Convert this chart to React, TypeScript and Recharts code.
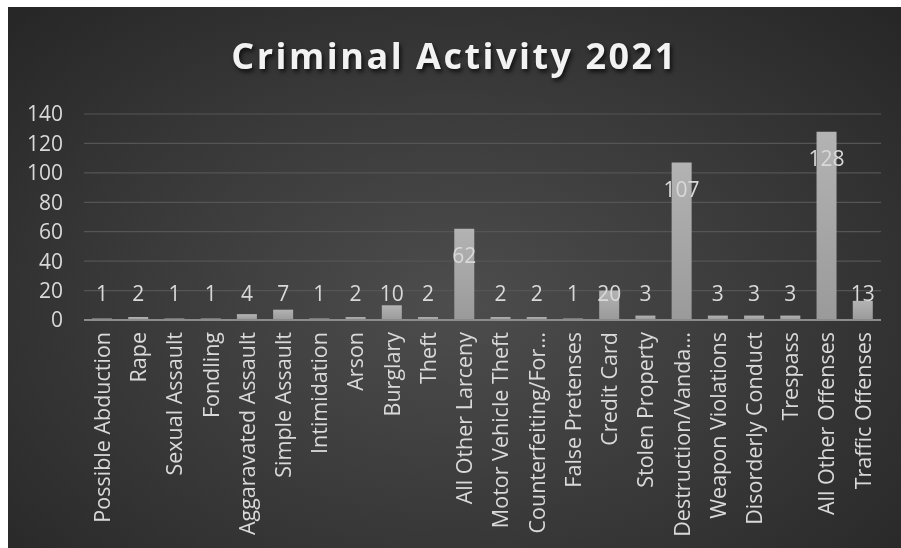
import React from 'react';
import { BarChart, Bar, XAxis, YAxis, CartesianGrid, LabelList } from 'recharts';

const categories = [
  'Possible Abduction',
  'Rape',
  'Sexual Assault',
  'Fondling',
  'Aggaravated Assault',
  'Simple Assault',
  'Intimidation',
  'Arson',
  'Burglary',
  'Theft',
  'All Other Larceny',
  'Motor Vehicle Theft',
  'Counterfeiting/For…',
  'False Pretenses',
  'Credit Card',
  'Stolen Property',
  'Destruction/Vanda…',
  'Weapon Violations',
  'Disorderly Conduct',
  'Trespass',
  'All Other Offenses',
  'Traffic Offenses',
];

const counts = [1, 2, 1, 1, 4, 7, 1, 2, 10, 2, 62, 2, 2, 1, 20, 3, 107, 3, 3, 3, 128, 13];

const yTicks = [0, 20, 40, 60, 80, 100, 120, 140];

const data = categories.map((name, i) => ({ name, value: counts[i] }));

const FONT = '"Open Sans", sans-serif';
const TEXT = '#d9d9d9';

function CategoryTick(props: any) {
  const { x, y, payload } = props;
  return (
    <text
      transform={`translate(${x}, ${y + 4}) rotate(-90)`}
      textAnchor="end"
      dy="0.36em"
      fill={TEXT}
      fontSize={21.5}
      fontFamily={FONT}
    >
      {payload.value}
    </text>
  );
}

function ValueLabel(props: any) {
  const { x, y, width, height, value } = props;
  const cy = Math.min(y + 27, y + height - 27);
  return (
    <text
      x={x + width / 2}
      y={cy}
      dy="0.36em"
      textAnchor="middle"
      fill={TEXT}
      fontSize={21}
      fontFamily={FONT}
    >
      {value}
    </text>
  );
}

export default function App() {
  return (
    <div
      style={{
        width: 893,
        height: 541,
        position: 'fixed',
        left: 8,
        top: 7,
        background: 'radial-gradient(ellipse at 50% 55%, #4d4d4d 0%, #3a3a3a 50%, #262626 100%)',
      }}
    >
      <div
        style={{
          position: 'absolute',
          top: 24,
          left: 0,
          width: 893,
          textAlign: 'center',
          fontFamily: FONT,
          fontWeight: 700,
          fontSize: 36,
          letterSpacing: 2.5,
          color: '#f2f2f2',
          textShadow: '2px 3px 4px rgba(0,0,0,0.7)',
        }}
      >
        Criminal Activity 2021
      </div>
      <BarChart
        width={893}
        height={541}
        data={data}
        margin={{ top: 107, right: 20, left: 0, bottom: 0 }}
        style={{ position: 'absolute', top: 0, left: 0 }}
      >
        <defs>
          <linearGradient id="barGrad" x1="0" y1="0" x2="0" y2="1">
            <stop offset="0%" stopColor="#b3b3b3" />
            <stop offset="100%" stopColor="#9a9a9a" />
          </linearGradient>
        </defs>
        <CartesianGrid vertical={false} stroke="#555555" strokeWidth={1.2} />
        <XAxis
          dataKey="name"
          interval={0}
          height={228}
          tick={<CategoryTick />}
          tickLine={false}
          axisLine={{ stroke: '#8c8c8c', strokeWidth: 2 }}
        />
        <YAxis
          domain={[0, 140]}
          ticks={yTicks}
          interval={0}
          width={76}
          tickLine={false}
          axisLine={false}
          tickMargin={15}
          tick={{ fill: TEXT, fontSize: 21, fontFamily: FONT }}
        />
        <Bar dataKey="value" fill="url(#barGrad)" barSize={20} isAnimationActive={false}>
          <LabelList dataKey="value" content={<ValueLabel />} />
        </Bar>
      </BarChart>
    </div>
  );
}
